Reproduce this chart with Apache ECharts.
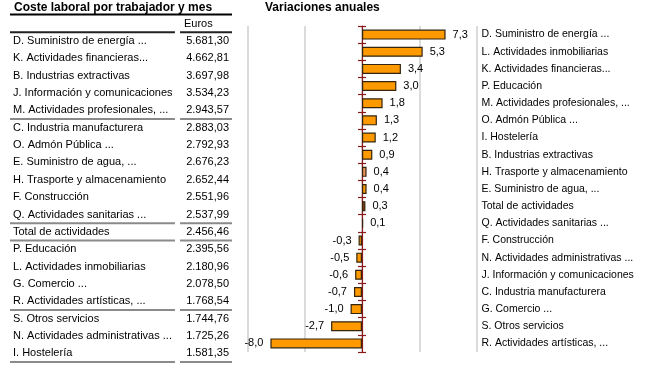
<!DOCTYPE html>
<html>
<head>
<meta charset="utf-8">
<script src="https://cdn.jsdelivr.net/npm/echarts@6/dist/echarts.min.js"></script>
<style>html,body{margin:0;padding:0;background:#fff}#c{width:654px;height:365px}</style>
</head>
<body>
<div id="c"></div>
<script>
// ---- Table data (left) ----
var tableNames = ["D. Suministro de energía ...", "K. Actividades financieras...", "B. Industrias extractivas", "J. Información y comunicaciones", "M. Actividades profesionales, ...", "C. Industria manufacturera", "O. Admón Pública ...", "E. Suministro de agua, ...", "H. Trasporte y almacenamiento", "F. Construcción", "Q. Actividades sanitarias ...", "Total de actividades", "P. Educación", "L. Actividades inmobiliarias", "G. Comercio ...", "R. Actividades artísticas, ...", "S. Otros servicios", "N. Actividades administrativas ...", "I. Hostelería"];
var tableEuros = [5681.30, 4662.81, 3697.98, 3534.23, 2943.57, 2883.03, 2792.93, 2676.23, 2652.44, 2551.96, 2537.99, 2456.46, 2395.56, 2180.96, 2078.50, 1768.54, 1744.76, 1725.26, 1581.35];
var tableSeparators = [4, 10, 11, 15, 18];

// ---- Bar data (right) ----
var barCategories = ["D. Suministro de energía ...", "L. Actividades inmobiliarias", "K. Actividades financieras...", "P. Educación", "M. Actividades profesionales, ...", "O. Admón Pública ...", "I. Hostelería", "B. Industrias extractivas", "H. Trasporte y almacenamiento", "E. Suministro de agua, ...", "Total de actividades", "Q. Actividades sanitarias ...", "F. Construcción", "N. Actividades administrativas ...", "J. Información y comunicaciones", "C. Industria manufacturera", "G. Comercio ...", "S. Otros servicios", "R. Actividades artísticas, ..."];
var barValues = [7.3, 5.3, 3.4, 3.0, 1.8, 1.3, 1.2, 0.9, 0.4, 0.4, 0.3, 0.1, -0.3, -0.5, -0.6, -0.7, -1.0, -2.7, -8.0];

function fmtEuro(v) {
  var parts = v.toFixed(2).split('.');
  var ip = parts[0].replace(/\B(?=(\d{3})+(?!\d))/g, '.');
  return ip + ',' + parts[1];
}
function fmtPct(v) { return v.toFixed(1).replace('.', ','); }

var FONT = 'Liberation Sans, Arial, sans-serif';
var ORANGE = '#FF9900';
var AXIS_RED = '#8B1A1A';
var colorFor = function (name) {
  if (name === 'H. Trasporte y almacenamiento') return '#F0935A';
  if (name === 'Total de actividades') return '#8B3A0E';
  return ORANGE;
};

var chart = echarts.init(document.getElementById('c'), null, {renderer: 'canvas'});
var option = {
  animation: false,
  backgroundColor: '#fff',
  textStyle: {fontFamily: FONT},
  title: [
    {text: 'Coste laboral por trabajador y mes', left: 9, top: -3, textStyle: {fontSize: 12, fontWeight: 'bold', color: '#000', fontFamily: FONT}},
    {text: 'Variaciones anuales', left: 260, top: -3, textStyle: {fontSize: 12, fontWeight: 'bold', color: '#000', fontFamily: FONT}}
  ],
  graphic: [
    {type: 'line', shape: {x1: 10, y1: 14.5, x2: 232, y2: 14.5}, style: {stroke: '#000', lineWidth: 2}},
    {type: 'text', left: 184, top: 18, style: {text: 'Euros', fontSize: 11, fill: '#000', fontFamily: FONT}}
  ],
  grid: [
    {left: 247.5, right: 177.5, top: 26, height: 326, containLabel: false},
    {left: 10, right: 422, top: 32.3, height: 329.7, containLabel: false}
  ],
  xAxis: [
    {gridIndex: 0, type: 'value', min: -10, max: 10, interval: 5,
      axisLabel: {show: false}, axisTick: {show: false}, axisLine: {show: false},
      splitLine: {show: true, lineStyle: {color: '#cfcfcf', width: 1.5}}},
    {gridIndex: 1, type: 'value', min: 0, max: 1, show: false},
    {gridIndex: 0, type: 'value', min: -10, max: 10, interval: 5, show: false}
  ],
  yAxis: [
    {gridIndex: 0, type: 'category', inverse: true, data: barCategories, position: 'right',
      axisLine: {show: false, onZero: false}, axisTick: {show: false},
      axisLabel: {margin: 5, fontSize: 10.5, color: '#000', fontFamily: FONT}},
    {gridIndex: 0, type: 'category', inverse: true, data: barCategories, position: 'left',
      axisLine: {show: true, onZero: true, onZeroAxisIndex: 0, lineStyle: {color: AXIS_RED, width: 1.2}},
      axisTick: {show: true, length: 4, lineStyle: {color: AXIS_RED, width: 1.2}},
      axisLabel: {show: false}},
    {gridIndex: 0, type: 'category', inverse: true, data: barCategories, position: 'left',
      axisLine: {show: false, onZero: true, onZeroAxisIndex: 2},
      axisTick: {show: true, inside: true, length: 4, lineStyle: {color: AXIS_RED, width: 1.2}},
      axisLabel: {show: false}},
    {gridIndex: 1, type: 'category', inverse: true, data: tableNames, position: 'left',
      axisLine: {show: false, onZero: false}, axisTick: {show: false},
      axisLabel: {inside: true, margin: 3, fontSize: 11, color: '#000', fontFamily: FONT}},
    {gridIndex: 1, type: 'category', inverse: true, data: tableEuros.map(fmtEuro), position: 'right',
      axisLine: {show: false, onZero: false}, axisTick: {show: false},
      axisLabel: {inside: true, margin: 3, fontSize: 11, color: '#000', fontFamily: FONT}}
  ],
  series: [
    {type: 'bar', xAxisIndex: 0, yAxisIndex: 0, barWidth: 10,
      data: barValues.map(function (v, i) {
        return {value: v, itemStyle: {color: colorFor(barCategories[i])},
          label: {position: v >= 0 ? 'right' : 'left'}};
      }),
      itemStyle: {borderColor: '#33250f', borderWidth: 1.2},
      label: {show: true, distance: 7, fontSize: 11, color: '#000', fontFamily: FONT,
        formatter: function (p) { return fmtPct(p.value); }}
    },
    {type: 'custom', xAxisIndex: 1, yAxisIndex: 3,
      data: [-1].concat(tableSeparators).map(function (s) { return [0, s]; }),
      renderItem: function (params, api) {
        var s = api.value(1);
        var cs = params.coordSys;
        var band = api.size([0, 1])[1];
        var y = s < 0 ? cs.y : api.coord([0, s])[1] + band / 2;
        var x0 = cs.x, x1 = cs.x + cs.width * 0.743, x2 = cs.x + cs.width * 0.766, x3 = cs.x + cs.width;
        var stroke = s < 0 ? '#222' : '#8a8a8a';
        return {type: 'group', children: [
          {type: 'line', shape: {x1: x0, y1: y, x2: x1, y2: y}, style: {stroke: stroke, lineWidth: 2}},
          {type: 'line', shape: {x1: x2, y1: y, x2: x3, y2: y}, style: {stroke: stroke, lineWidth: 2}}
        ]};
      }
    }
  ]
};
chart.setOption(option);
</script>
</body>
</html>
